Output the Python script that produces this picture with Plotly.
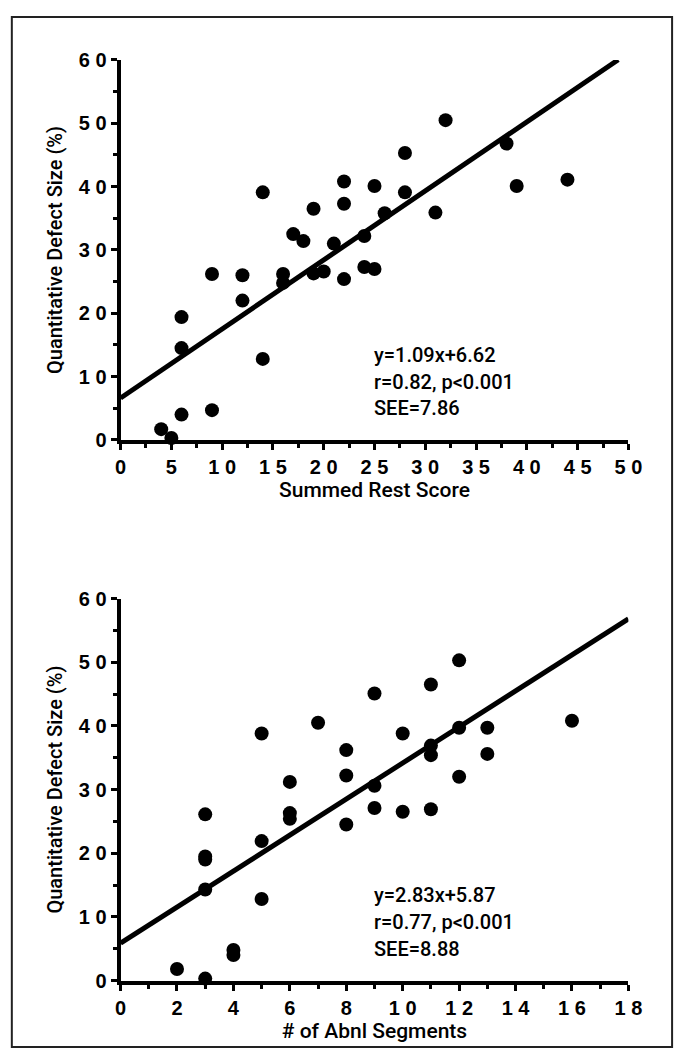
import plotly.graph_objects as go

# ---- data ----
rest_score = [4, 5, 6, 6, 6, 9, 9, 12, 12, 14, 14, 16, 16, 17, 18, 19, 19, 20, 21,
              22, 22, 22, 24, 24, 25, 25, 26, 28, 28, 31, 32, 38, 39, 44]
defect_top = [1.7, 0.3, 4.0, 14.5, 19.4, 4.7, 26.2, 26.0, 22.0, 12.8, 39.1, 26.2, 24.8, 32.5, 31.4,
              36.5, 26.3, 26.6, 31.0, 40.8, 37.3, 25.4, 32.2, 27.3, 27.0, 40.1, 35.8, 45.3, 39.1,
              35.9, 50.5, 46.8, 40.1, 41.1]

abnl_segments = [2, 3, 3, 3, 3, 3, 4, 4, 5, 5, 5, 6, 6, 6, 7, 8, 8, 8, 9, 9, 9, 10, 10,
                 11, 11, 11, 11, 12, 12, 12, 13, 13, 16]
defect_bottom = [1.8, 0.3, 14.3, 19.5, 19.0, 26.1, 4.8, 4.0, 12.8, 21.9, 38.8, 31.2, 26.3, 25.4,
                 40.5, 36.2, 32.2, 24.5, 45.1, 30.6, 27.1, 38.8, 26.5, 46.5, 36.9, 35.4, 26.9,
                 50.3, 39.7, 32.0, 39.7, 35.6, 40.8]

fit_top = {"slope": 1.09, "intercept": 6.62, "xmax": 49}
fit_bottom = {"slope": 2.83, "intercept": 5.87, "xmax": 18}

stats_top = ["y=1.09x+6.62", "r=0.82, p<0.001", "SEE=7.86"]
stats_bottom = ["y=2.83x+5.87", "r=0.77, p<0.001", "SEE=8.88"]

y_ticks = [0, 10, 20, 30, 40, 50, 60]
x_ticks_top = [0, 5, 10, 15, 20, 25, 30, 35, 40, 45, 50]
x_ticks_bottom = [0, 2, 4, 6, 8, 10, 12, 14, 16, 18]

x_title_top = "Summed Rest Score"
x_title_bottom = "# of Abnl Segments"
y_title = "Quantitative Defect Size (%)"


def spaced(v):
    return " ".join(str(v))


W, H = 689, 1063
FONT = "Liberation Sans, Arial, sans-serif"
TFONT = "Roboto, Liberation Sans, Arial, sans-serif"


def px_x(p):
    return p / W


def px_y(p):
    return 1 - p / H


fig = go.Figure()

for xs, ys, fit, xa, ya in [
    (rest_score, defect_top, fit_top, "x", "y"),
    (abnl_segments, defect_bottom, fit_bottom, "x2", "y2"),
]:
    lx = [0, fit["xmax"]]
    ly = [fit["intercept"] + fit["slope"] * v for v in lx]
    fig.add_trace(go.Scatter(x=lx, y=ly, mode="lines", line=dict(color="black", width=5),
                             xaxis=xa, yaxis=ya, showlegend=False, cliponaxis=False,
                             hoverinfo="skip"))
    fig.add_trace(go.Scatter(x=xs, y=ys, mode="markers",
                             marker=dict(color="black", size=14, line=dict(width=0)),
                             xaxis=xa, yaxis=ya, showlegend=False, cliponaxis=False))

tickfont = dict(family=FONT, size=20, color="black", weight="bold")
xtitlefont = dict(family=TFONT, size=21, color="black", weight=500)
ytitlefont = dict(family=TFONT, size=20, color="black", weight=500)

common_axis = dict(showline=True, linewidth=4, linecolor="black", showgrid=False,
                   zeroline=False, ticks="outside", ticklen=6, tickwidth=3,
                   tickcolor="black", tickfont=tickfont, layer="below traces")

x0_px, x1_px = 118, 641
top_y60, top_y0 = 50, 438
bot_y60, bot_y0 = 600, 990

fig.update_layout(
    width=W, height=H,
    margin=dict(l=0, r=0, t=0, b=0),
    paper_bgcolor="white", plot_bgcolor="white",
    xaxis=dict(common_axis, domain=[px_x(x0_px), px_x(x1_px)], range=[0, 50],
               tickvals=x_ticks_top, ticktext=[spaced(v) for v in x_ticks_top],
               minor=dict(dtick=2.5, tick0=0, ticks="outside", ticklen=4, tickwidth=3,
                          tickcolor="black"),
               title=dict(text=x_title_top, font=xtitlefont, standoff=4),
               anchor="y"),
    yaxis=dict(common_axis, domain=[px_y(top_y0), px_y(top_y60)], range=[0, 60],
               tickvals=y_ticks, ticktext=[spaced(v) for v in y_ticks],
               minor=dict(dtick=5, tick0=0, ticks="outside", ticklen=4, tickwidth=3,
                          tickcolor="black"),
               title=dict(text=y_title, font=ytitlefont, standoff=12),
               anchor="x"),
    xaxis2=dict(common_axis, domain=[px_x(x0_px), px_x(x1_px)], range=[0, 18],
                tickvals=x_ticks_bottom, ticktext=[spaced(v) for v in x_ticks_bottom],
                minor=dict(dtick=1, tick0=0, ticks="outside", ticklen=4, tickwidth=3,
                           tickcolor="black"),
                title=dict(text=x_title_bottom, font=xtitlefont, standoff=4),
                anchor="y2"),
    yaxis2=dict(common_axis, domain=[px_y(bot_y0), px_y(bot_y60)], range=[0, 60],
                tickvals=y_ticks, ticktext=[spaced(v) for v in y_ticks],
                minor=dict(dtick=5, tick0=0, ticks="outside", ticklen=4, tickwidth=3,
                           tickcolor="black"),
                title=dict(text=y_title, font=ytitlefont, standoff=12),
                anchor="x2"),
    shapes=[dict(type="rect", xref="paper", yref="paper",
                 x0=px_x(6), x1=px_x(686), y0=px_y(1058), y1=px_y(6),
                 line=dict(color="#222", width=2))],
)

ann_font = dict(family=TFONT, size=20, color="black", weight=500)
line_levels = [13.4, 9.2, 5.0]
for texts, xa, ya, xpos in [(stats_top, "x", "y", 24.8), (stats_bottom, "x2", "y2", 8.9)]:
    for t, lvl in zip(texts, line_levels):
        fig.add_annotation(x=xpos, y=lvl, xref=xa, yref=ya, text=t, showarrow=False,
                           xanchor="left", yanchor="middle", font=ann_font)

fig.write_html("out.html")
